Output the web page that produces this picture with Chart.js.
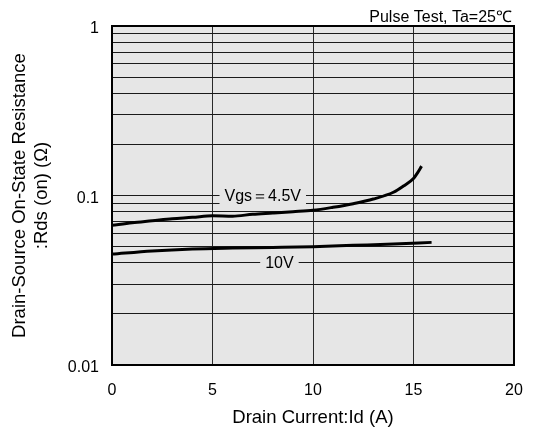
<!DOCTYPE html>
<html><head><meta charset="utf-8">
<script src="https://cdn.jsdelivr.net/npm/chart.js@4/dist/chart.umd.min.js"></script>
<style>html,body{margin:0;padding:0;background:#fff}</style>
</head><body>
<canvas id="c" width="534" height="433" style="display:block"></canvas>
<script>
const vgs45X = [0, 1, 2, 3, 4, 5, 6, 7, 8, 9, 10, 11, 12, 13, 14, 14.5, 15, 15.2, 15.4];
const vgs45Y = [0.0667, 0.0691, 0.071, 0.073, 0.0743, 0.076, 0.0755, 0.0775, 0.0788, 0.0802, 0.0818, 0.0852, 0.0895, 0.0953, 0.1045, 0.1137, 0.126, 0.136, 0.149];
const vgs10X = [0, 2, 4, 6, 8, 10, 12, 14, 15.9];
const vgs10Y = [0.0451, 0.0471, 0.0484, 0.049, 0.0494, 0.0499, 0.0508, 0.0517, 0.0529];
const xTicks = [0, 5, 10, 15, 20];
const yGrid = [0.01,0.02,0.03,0.04,0.05,0.06,0.07,0.08,0.09,0.1,0.2,0.3,0.4,0.5,0.6,0.7,0.8,0.9,1];
const yLabels = {"0.01":"0.01","0.1":"0.1","1":"1"};
const curveLabels = [{text:'Vgs＝4.5V', x:7.5, y:0.1}, {text:'10V', x:8.33, y:0.04}];
const noteText = 'Pulse Test, Ta=25℃';
const xTitle = 'Drain Current:Id (A)';
const yTitle = ['Drain-Source On-State Resistance', ':Rds (on) (Ω)'];

const FONT = '"Liberation Sans", Arial, Helvetica, sans-serif';
const toPts = (xs, ys) => xs.map((x, i) => ({x, y: ys[i]}));

const plotDeco = {
  id: 'plotDeco',
  beforeDraw(chart) {
    const {ctx, chartArea: a} = chart;
    ctx.save();
    ctx.fillStyle = '#e6e6e6';
    ctx.fillRect(a.left, a.top, a.right - a.left, a.bottom - a.top);
    ctx.restore();
  },
  afterDatasetsDraw(chart) {
    const {ctx, chartArea: a, scales} = chart;
    ctx.save();
    ctx.font = '16px ' + FONT;
    ctx.textAlign = 'center';
    ctx.textBaseline = 'middle';
    curveLabels.forEach(l => {
      const px = scales.x.getPixelForValue(l.x);
      const py = scales.y.getPixelForValue(l.y);
      const w = ctx.measureText(l.text).width + 10;
      ctx.fillStyle = '#e6e6e6';
      ctx.fillRect(px - w / 2, py - 9, w, 18);
      ctx.fillStyle = '#000';
      ctx.fillText(l.text, px, py + 1);
    });
    ctx.strokeStyle = '#000';
    ctx.lineWidth = 2;
    ctx.strokeRect(a.left, a.top, a.right - a.left, a.bottom - a.top);
    ctx.font = '16px ' + FONT;
    ctx.textAlign = 'right';
    ctx.textBaseline = 'alphabetic';
    ctx.fillStyle = '#000';
    ctx.fillText(noteText, a.right - 2, a.top - 4);
    ctx.restore();
  }
};

new Chart(document.getElementById('c'), {
  type: 'scatter',
  data: {
    datasets: [
      {data: toPts(vgs45X, vgs45Y), showLine: true, borderColor: '#000', borderWidth: 3, pointRadius: 0, cubicInterpolationMode: 'monotone'},
      {data: toPts(vgs10X, vgs10Y), showLine: true, borderColor: '#000', borderWidth: 3, pointRadius: 0, cubicInterpolationMode: 'monotone'}
    ]
  },
  options: {
    responsive: false,
    animation: false,
    layout: {padding: {top: 26, right: 20, left: 0, bottom: 0}},
    plugins: {legend: {display: false}, tooltip: {enabled: false}},
    scales: {
      x: {
        type: 'linear', min: 0, max: 20,
        afterBuildTicks: s => { s.ticks = xTicks.map(v => ({value: v})); },
        afterFit: s => { s.height = 68; s.paddingLeft = 0; s.paddingRight = 0; },
        grid: {color: '#2a2a2a', lineWidth: 1, drawTicks: false},
        border: {display: false},
        ticks: {color: '#000', font: {family: FONT, size: 16}, padding: 16, maxRotation: 0},
        title: {display: true, text: xTitle, color: '#000', font: {family: FONT, size: 18.5}, padding: {top: 0, bottom: 4}}
      },
      y: {
        type: 'logarithmic', min: 0.01, max: 1,
        afterBuildTicks: s => { s.ticks = yGrid.map(v => ({value: v})); },
        afterFit: s => { s.width = 112; s.paddingTop = 0; s.paddingBottom = 0; },
        grid: {color: '#1a1a1a', lineWidth: 1, drawTicks: false},
        border: {display: false},
        ticks: {color: '#000', font: {family: FONT, size: 16}, padding: 13, autoSkip: false, labelOffset: 3,
          callback: v => yLabels[String(+v.toPrecision(3))] || ''},
        title: {display: true, text: yTitle, color: '#000', font: {family: FONT, size: 18.5}, padding: {top: 8.5, bottom: 0}}
      }
    }
  },
  plugins: [plotDeco]
});
</script>
</body></html>
